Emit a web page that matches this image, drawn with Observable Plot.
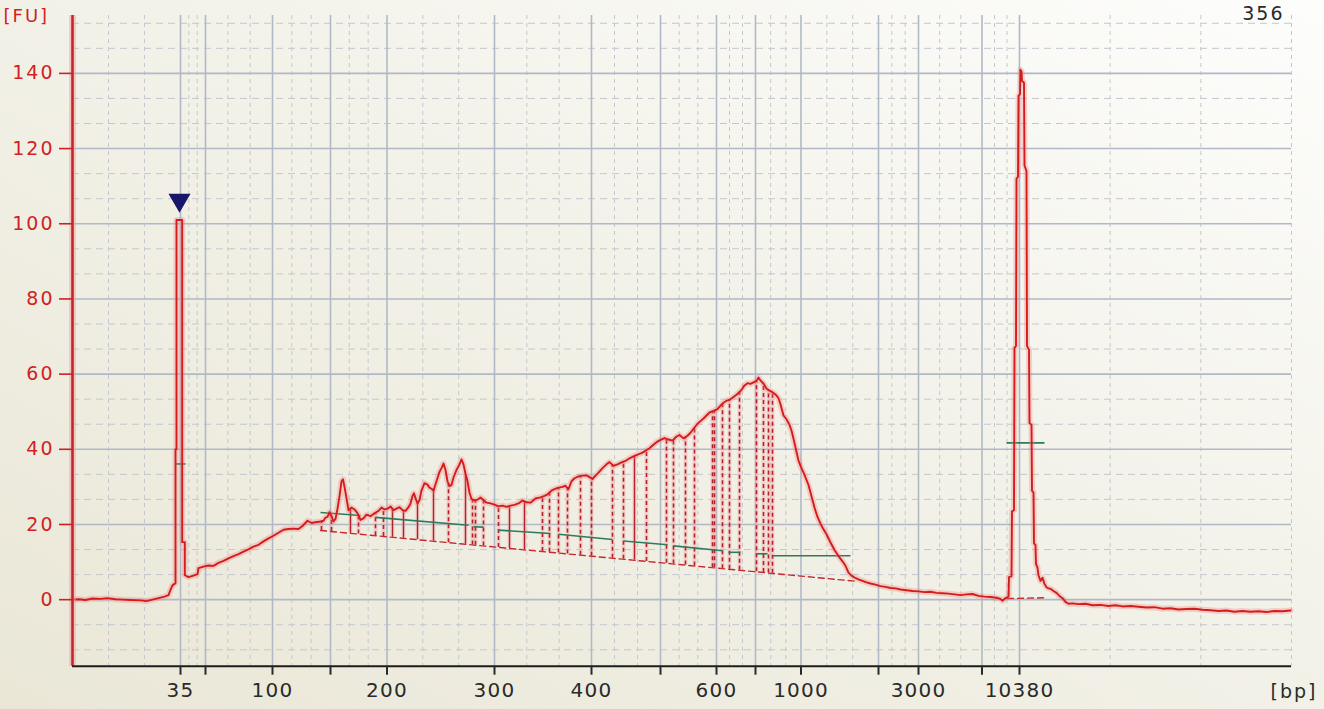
<!DOCTYPE html>
<html><head><meta charset="utf-8">
<script src="https://cdn.jsdelivr.net/npm/d3@7"></script>
<script src="https://cdn.jsdelivr.net/npm/@observablehq/plot@0.6"></script>
<style>
html,body{margin:0;padding:0;}
body{width:1324px;height:709px;overflow:hidden;background:linear-gradient(to top right,#eae7d7 0%,#f3f2e9 55%,#fdfdfc 100%);font-family:"DejaVu Sans",Verdana,sans-serif;}
#chart svg{display:block;background:none !important;}
.wide{letter-spacing:2px;}
g[aria-label="x-axis tick label"] text{letter-spacing:1.2px;}
g[aria-label="y-axis tick label"] text{letter-spacing:2px;}
</style></head><body><div id="chart"></div><script>
// ---- data: migration time (s) vs fluorescence (FU) ----
const ladderBp   = [35, 50, 100, 150, 200, 300, 400, 500, 600, 700, 1000, 2000, 3000, 7000, 10380];
const ladderTime = [18.0, 20.5, 27.2, 33.0, 38.65, 49.4, 59.1, 66.0, 71.6, 75.5, 80.05, 87.8, 91.8, 98.15, 101.9];
const labeledBp  = [35, 100, 200, 300, 400, 600, 1000, 3000, 10380];
const yTicks     = [0, 20, 40, 60, 80, 100, 120, 140];
const xDomain    = [7.2, 129.1];
const yDomain    = [-17.7, 155.4];
const sampleId   = "356";

const traceStart = [[7.2,0.0],[7.8,0.1],[8.5,-0.1],[9.2,0.3],[10.0,0.2],[10.7,0.4],[11.5,0.1],[12.2,0.0],[13.0,-0.1],[14.0,-0.2],[14.6,-0.4],[15.2,0.0],[15.8,0.4],[16.4,0.8],[16.8,1.2],[17.0,2.6],[17.2,3.8],[17.5,4.4]];
const lowerMarker = [[17.5,40],[17.6,40],[17.6,101],[18.17,101],[18.17,15.3],[18.43,15.3],[18.43,6.5]];
const smearRise = [[18.8,6.0],[19.3,6.4],[19.7,6.8],[19.8,8.4],[20.3,8.8],[20.8,9.1],[21.3,9.0],[21.8,9.8],[22.3,10.3],[22.8,11.0],[23.3,11.6],[23.8,12.1],[24.3,12.8],[24.8,13.4],[25.3,14.1],[25.8,14.6],[26.3,15.5],[26.8,16.3],[27.3,17.0],[27.8,17.8],[28.3,18.6],[28.8,18.8],[29.3,18.9],[29.8,18.8],[30.2,19.6],[30.7,21.0],[31.1,20.4],[31.5,20.6],[32.0,20.8]];
const smearPeaks = [[32.3,21.0],[32.5,21.8],[32.7,22.0],[32.9,23.3],[33.1,22.2],[33.3,20.8],[33.5,21.5],[33.7,24.2],[33.9,27.5],[34.1,31.5],[34.25,32.0],[34.4,30.0],[34.6,27.0],[34.8,23.8],[35.1,24.5],[35.4,24.0],[35.7,23.0],[36.0,21.2],[36.3,21.6],[36.6,22.6],[37.0,22.2],[37.4,23.0],[37.8,23.6],[38.1,24.5],[38.4,24.0],[38.7,24.2],[39.0,24.8],[39.3,23.8],[39.6,24.2],[39.9,24.6],[40.2,23.8],[40.5,23.6],[40.8,24.6],[41.0,25.6],[41.2,27.6],[41.35,28.3],[41.5,27.0],[41.7,25.6],[41.9,26.5],[42.1,29.0],[42.4,31.0],[42.7,30.6],[42.9,29.8],[43.1,29.5],[43.3,29.0],[43.6,31.5],[43.9,34.0],[44.1,35.0],[44.3,36.2],[44.5,34.5],[44.7,31.5],[44.9,30.2],[45.1,30.5],[45.3,32.5],[45.6,34.5],[45.9,36.0],[46.1,37.3],[46.3,36.0],[46.5,33.5],[46.7,31.5],[46.9,28.5],[47.1,26.8],[47.4,26.4],[47.7,26.6],[48.0,27.2],[48.3,26.5],[48.6,25.8],[49.0,25.6],[49.4,25.3],[49.8,24.8],[50.2,25.0],[50.6,24.7],[51.0,25.0],[51.4,25.2],[51.8,25.6],[52.2,26.4],[52.6,25.9],[53.0,25.8],[53.5,26.9],[54.0,27.2],[54.4,27.6],[54.7,28.0],[55.1,29.0],[55.4,29.4],[55.8,29.8],[56.2,30.0],[56.5,30.3],[56.8,29.4],[57.1,31.5],[57.4,32.3],[57.8,32.8],[58.2,33.0],[58.6,33.1],[58.9,32.6],[59.2,32.1],[59.5,33.0],[59.8,33.8]];
const smearMain = [[60.2,35.0],[60.6,36.0],[60.9,36.6],[61.3,35.6],[61.7,36.0],[62.1,36.5],[62.5,36.9],[62.9,37.6],[63.3,38.1],[63.7,38.6],[64.1,39.0],[64.5,39.6],[64.9,40.3],[65.2,41.0],[65.6,41.9],[66.0,42.5],[66.4,43.0],[66.8,42.6],[67.2,42.3],[67.6,43.4],[67.9,43.8],[68.3,42.9],[68.7,43.6],[69.0,44.4],[69.4,45.8],[69.7,46.8],[70.0,47.5],[70.3,48.2],[70.6,49.0],[70.9,49.8],[71.3,50.2],[71.7,50.7],[72.0,51.6],[72.3,52.4],[72.6,52.9],[72.9,53.2],[73.2,53.7],[73.5,54.3],[73.8,55.0],[74.1,55.8],[74.4,57.0],[74.7,57.6],[75.0,57.4],[75.3,57.8],[75.6,58.2],[75.8,59.1],[76.0,58.3],[76.3,57.5],[76.6,56.2],[76.9,55.6],[77.2,55.2],[77.5,54.6],[77.8,53.6],[78.0,52.0],[78.3,49.0],[78.6,48.0],[78.9,46.5],[79.1,45.0],[79.3,42.8],[79.5,40.5],[79.8,37.0],[80.1,35.0],[80.4,33.2],[80.8,30.5],[81.1,27.5],[81.4,24.5],[81.7,22.0],[82.0,20.2],[82.3,18.7],[82.6,17.4],[83.0,15.2],[83.4,13.2],[83.8,11.6],[84.2,10.2],[84.5,9.0],[84.8,7.2],[85.1,6.4],[85.4,5.9],[85.8,5.4]];
const tailLow = [[86.2,5.0],[86.6,4.6],[87.0,4.3],[87.5,4.0],[88.0,3.6],[88.5,3.4],[89.0,3.1],[89.5,3.0],[90.0,2.7],[90.6,2.5],[91.2,2.3],[91.8,2.2],[92.4,2.0],[93.0,2.1],[93.6,1.8],[94.2,1.7],[94.8,1.6],[95.4,1.4],[96.0,1.2],[96.6,1.4],[97.2,1.5],[97.8,1.0],[98.4,0.8],[99.0,0.7],[99.6,0.5],[100.0,0.2],[100.2,-0.3],[100.5,0.4]];
const upperMarker = [[100.8,0.8],[100.85,6.0],[101.1,6.2],[101.15,23.5],[101.35,23.8],[101.4,67],[101.55,67.5],[101.6,112],[101.75,112.5],[101.8,134],[101.95,134.5],[102.0,141],[102.1,140.5],[102.15,138],[102.35,137.5],[102.4,115.5],[102.6,114],[102.65,67.5],[102.85,66.5],[102.9,47],[103.1,46.5],[103.15,29],[103.3,28.5],[103.35,15],[103.5,14.5],[103.55,9.5],[103.7,8.5],[103.8,6.5],[104.0,5.0],[104.2,5.8],[104.4,4.2],[104.6,3.3],[104.8,3.0],[105.0,2.9],[105.3,2.3],[105.6,1.8],[105.9,1.0],[106.2,0.4],[106.5,-0.6],[106.8,-1.1]];
const tailEnd = [[107.2,-1.0],[107.8,-1.2],[108.5,-1.1],[109.2,-1.5],[110.0,-1.4],[110.8,-1.7],[111.5,-1.5],[112.2,-1.8],[113.0,-1.7],[113.8,-1.9],[114.6,-2.1],[115.4,-2.0],[116.2,-2.4],[117.0,-2.3],[117.8,-2.6],[118.6,-2.5],[119.4,-2.4],[120.2,-2.7],[121.0,-2.8],[121.8,-3.0],[122.6,-2.9],[123.4,-3.2],[124.2,-3.0],[125.0,-3.2],[125.8,-3.1],[126.6,-3.3],[127.4,-3.0],[128.2,-3.1],[129.0,-2.9]];

// smear region: peak baseline, peak boundaries, peak levels
const smearBaseline = [[32.0,18.4],[85.5,4.9]];
const upperBaseline = [[100.7,0.3],[104.5,0.5]];
const boundsDashed = [32.1,33.1,35.8,37.5,38.3,44.8,47.2,47.5,48.3,49.8,54.2,54.9,55.8,56.7,58.0,59.1,61.2,62.3,64.6,66.6,67.3,68.5,69.4,71.2,71.4,72.2,72.9,73.9,75.6,76.3,76.8,77.2];
const boundsSolid  = [35.0,39.2,40.3,41.7,43.3,46.5,50.9,52.4,63.4];
const greenSegs = [[17.5,36.1,18.5,36.1],[32.0,23.2,36.0,22.4],[37.5,21.9,46.8,19.8],[47.3,19.4,48.3,19.3],[49.8,18.5,55.0,17.6],[55.8,17.4,61.2,16.0],[62.3,15.6,66.7,14.6],[67.3,14.3,72.2,13.0],[72.8,12.6,74.0,12.6],[75.6,12.2,76.7,12.2],[77.2,11.7,85.0,11.7],[100.6,41.7,104.4,41.7]];
const markerFlag = [[17.9,106.3]];

// ---- derived ----
const trace = [...traceStart, ...lowerMarker, ...smearRise, ...smearPeaks, ...smearMain, ...tailLow, ...upperMarker, ...tailEnd];
function interp(pts, t){
  for (let i = 0; i < pts.length - 1; i++){
    const [a, ya] = pts[i], [b, yb] = pts[i+1];
    if (t >= a && t <= b) return b === a ? ya : ya + (yb - ya) * (t - a) / (b - a);
  }
  return pts[pts.length-1][1];
}
const bRows = arr => arr.map(t => ({t, base: interp(smearBaseline, t), top: interp(trace, t)}));
const xEdges = [xDomain[0], ...ladderTime, xDomain[1]];
const xMinor = [];
for (let i = 0; i < xEdges.length - 1; i++){ const a = xEdges[i], b = xEdges[i+1]; xMinor.push(a + (b-a)/3, a + 2*(b-a)/3); }
xMinor.push(xDomain[1]);
const yMinor = [];
for (let v = -20; v <= 160; v += 20){ [v + 20/3, v + 40/3].forEach(u => { if (u > yDomain[0] && u < yDomain[1]) yMinor.push(u); }); }
const labelOf = t => { const bp = ladderBp[ladderTime.indexOf(t)]; return labeledBp.includes(bp) ? String(bp) : ""; };

const red = "#d11f24", dark = "#2a2a2a";
const chart = Plot.plot({
  width: 1324, height: 709,
  marginLeft: 72, marginRight: 33, marginTop: 15, marginBottom: 43.3,
  style: {background: "none", fontFamily: "DejaVu Sans, Verdana, sans-serif", overflow: "visible"},
  x: {domain: xDomain},
  y: {domain: yDomain},
  marks: [
    Plot.ruleX(xMinor, {stroke: "#c4c7cd", strokeWidth: 1, strokeDasharray: "4,4"}),
    Plot.ruleY(yMinor, {stroke: "#c4c7cd", strokeWidth: 1, strokeDasharray: "7,5"}),
    Plot.ruleY(yTicks, {stroke: "#b1b9c7", strokeWidth: 1.6}),
    Plot.ruleX(ladderTime, {stroke: "#b1b9c7", strokeWidth: 1.6}),
    Plot.line(smearBaseline, {x: d => d[0], y: d => d[1], stroke: "#c8262c", strokeWidth: 1.4, strokeDasharray: "6,4"}),
    Plot.line(upperBaseline, {x: d => d[0], y: d => d[1], stroke: "#c8262c", strokeWidth: 1.4, strokeDasharray: "6,4"}),
    Plot.ruleX(bRows(boundsDashed), {x: "t", y1: "base", y2: "top", stroke: "#f4a9a9", strokeWidth: 4, strokeOpacity: 0.45}),
    Plot.ruleX(bRows(boundsDashed), {x: "t", y1: "base", y2: "top", stroke: "#b3222a", strokeWidth: 1.6, strokeDasharray: "4,3"}),
    Plot.ruleX(bRows(boundsSolid), {x: "t", y1: "base", y2: "top", stroke: "#f4a9a9", strokeWidth: 4, strokeOpacity: 0.45}),
    Plot.ruleX(bRows(boundsSolid), {x: "t", y1: "base", y2: "top", stroke: "#b3222a", strokeWidth: 1.4}),
    Plot.link(greenSegs, {x1: d => d[0], y1: d => d[1], x2: d => d[2], y2: d => d[3], stroke: "#2e7a5e", strokeWidth: 1.6}),
    Plot.line(trace, {x: d => d[0], y: d => d[1], stroke: "#f07a7a", strokeWidth: 6, strokeOpacity: 0.3, curve: "linear"}),
    Plot.line(trace, {x: d => d[0], y: d => d[1], stroke: "#d41c1c", strokeWidth: 1.9, curve: "linear"}),
    Plot.dot(markerFlag, {x: d => d[0], y: d => d[1], symbol: "triangle", r: 8.2, fill: "#17176a", rotate: 180}),
    Plot.ruleX([xDomain[0]], {stroke: "#f3a3a3", strokeWidth: 7, strokeOpacity: 0.5}),
    Plot.ruleX([xDomain[0]], {stroke: "#c4262b", strokeWidth: 2.6}),
    Plot.ruleY([yDomain[0]], {stroke: "#1c1c1c", strokeWidth: 2}),
    Plot.axisY(yTicks, {anchor: "left", tickSize: 13, tickPadding: 5, fontSize: 19, color: red, strokeWidth: 1.6, label: null}),
    Plot.axisX(ladderTime, {anchor: "bottom", tickSize: 9, tickPadding: 8, fontSize: 20, color: dark, strokeWidth: 2, label: null, tickFormat: labelOf}),
    Plot.text(["[FU]"], {text: d => d, frameAnchor: "top-left", dx: -69, dy: 1, textAnchor: "start", lineAnchor: "middle", fontSize: 18, fill: red, className: "wide"}),
    Plot.text([sampleId], {text: d => d, frameAnchor: "top-right", dx: -7, dy: -1.5, textAnchor: "end", lineAnchor: "middle", fontSize: 19, fill: dark, className: "wide"}),
    Plot.text(["[bp]"], {text: d => d, frameAnchor: "bottom-right", dx: 26, dy: 25.5, textAnchor: "end", lineAnchor: "middle", fontSize: 19, fill: dark, className: "wide"})
  ]
});
document.getElementById("chart").appendChild(chart);
</script></body></html>
